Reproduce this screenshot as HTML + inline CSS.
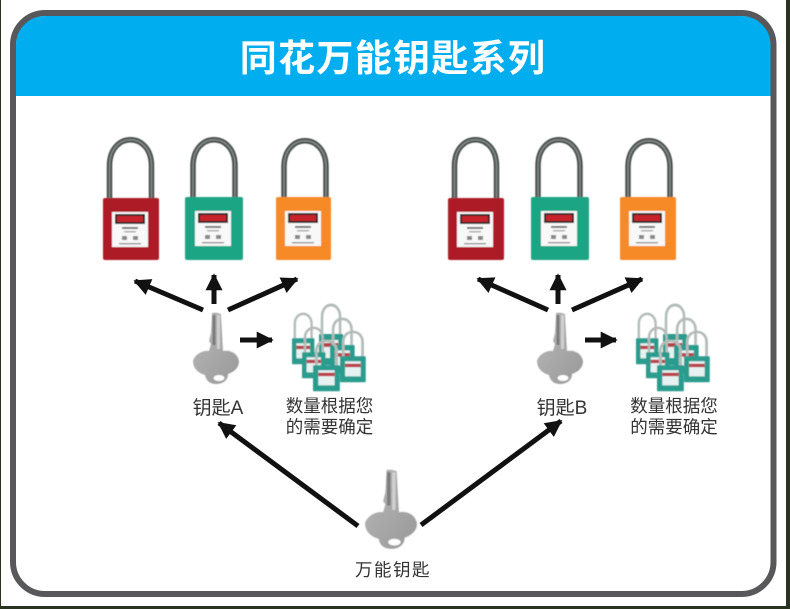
<!DOCTYPE html>
<html><head><meta charset="utf-8"><style>
html,body{margin:0;padding:0;background:#fff}
svg{display:block}
text{font-family:"Liberation Sans","Noto Sans CJK SC",sans-serif}
</style></head><body>
<svg width="790" height="609" viewBox="0 0 790 609" xmlns="http://www.w3.org/2000/svg">
<defs>
<linearGradient id="kg" x1="0" x2="1" y1="0" y2="1"><stop offset="0" stop-color="#b8b8b8"/><stop offset="1" stop-color="#999"/></linearGradient>
<filter id="b" x="-10%" y="-10%" width="120%" height="120%"><feGaussianBlur stdDeviation=".6"/></filter>
<g id="shackle"><path d="M7 64V26C7 -9 49 -9 49 26V64" fill="none" stroke="#4a504e" stroke-width="5.500"/><path d="M7 64V26C7 -9 49 -9 49 26V64" fill="none" stroke="#858c8a" stroke-width="1.500"/></g>
<g id="label"><rect x="9" y="15" width="36" height="35" fill="#f8f8f8"/><rect x="12" y="17" width="30" height="10" fill="#2a2a2a"/><rect x="14" y="19" width="26" height="6" fill="#c8202a"/><rect x="19" y="30" width="16" height="2" fill="#777"/><rect x="21" y="34" width="12" height="1.500" fill="#aaa"/><rect x="19" y="39" width="5" height="4" fill="#888"/><rect x="30" y="39" width="5" height="4" fill="#888"/><rect x="16" y="46" width="22" height="1.500" fill="#999"/></g>
<g id="mini"><path d="M7 64V26C7 -6 49 -6 49 26V64" fill="none" stroke="#b4bcba" stroke-width="6"/><rect x="0" y="60" width="56" height="62" rx="2" fill="#2a9c8e"/><rect x="11" y="72" width="34" height="36" fill="#e6f2f1"/><rect x="11" y="78" width="34" height="8" fill="#b8404a"/></g>
<g id="kh"><path d="M-4 0Q0 -1 5 1L7 38C13 37 21 39 23 48C23 55 18 59 12 61C12 68 6 71 0 71C-7 71 -10 67 -11 62C-18 60 -23 55 -23 48C-21 41 -13 37 -7 38L-5 31L-7 28L-5 20z" fill="url(#kg)"/><path d="M-2 2V32" stroke="#7c7c7c" stroke-width="3" fill="none"/><rect x="1" y="2" width="3" height="34" fill="#d0d0d0"/><ellipse cx="3" cy="65" rx="5.500" ry="3" fill="#fff"/></g>
<marker id="ah" viewBox="0 0 10 10" refX="9" refY="5" markerWidth="3.400" markerHeight="3.600" orient="auto"><path d="M0 0L10 5L0 10z" fill="#111"/></marker>
</defs>
<rect width="790" height="609" fill="#fff"/>
<rect x="0" y="0" width="1" height="609" fill="#2a3320"/>
<rect x="786" y="0" width="4" height="609" fill="#2a3320"/>
<rect x="0" y="606" width="790" height="3" fill="#2a3320"/>
<path d="M16 96V46Q16 16 46 16H741Q771 16 771 46V96z" fill="#00aeef"/>
<rect x="13" y="13" width="760.500" height="581" rx="32" fill="none" stroke="#58585a" stroke-width="6"/>
<text x="393" y="71" text-anchor="middle" font-size="37" font-weight="700" fill="#fff" letter-spacing="1.300">同花万能钥匙系列</text>

<g filter="url(#b)">
<use href="#shackle" transform="translate(102.500,140)"/>
<rect x="103" y="198" width="56" height="62" rx="2" fill="#ad1f28"/><use href="#label" transform="translate(103,197)"/>
<use href="#shackle" transform="translate(186,140)"/>
<rect x="185" y="197" width="58" height="63" rx="2" fill="#1fa584"/><use href="#label" transform="translate(186,196)"/>
<use href="#shackle" transform="translate(277,141)"/>
<rect x="276" y="197" width="55" height="63" rx="2" fill="#f58a25"/><use href="#label" transform="translate(276,196)"/>

<use href="#shackle" transform="translate(447.500,140)"/>
<rect x="448" y="198" width="56" height="62" rx="2" fill="#ad1f28"/><use href="#label" transform="translate(448,197)"/>
<use href="#shackle" transform="translate(531,140)"/>
<rect x="531" y="197" width="58" height="63" rx="2" fill="#1fa584"/><use href="#label" transform="translate(532,196)"/>
<use href="#shackle" transform="translate(621,141)"/>
<rect x="620" y="197" width="56" height="63" rx="2" fill="#f58a25"/><use href="#label" transform="translate(620,196)"/>

<g id="cluster">
<use href="#mini" transform="translate(319,304) scale(.43,.5)"/>
<use href="#mini" transform="translate(292,313) scale(.4,.42)"/>
<use href="#mini" transform="translate(330,318) scale(.44,.45)"/>
<use href="#mini" transform="translate(302,327) scale(.42,.42)"/>
<use href="#mini" transform="translate(340,331) scale(.46,.42)"/>
<use href="#mini" transform="translate(313,340) scale(.48,.42)"/>
</g>
<use href="#cluster" transform="translate(344,0)"/>

<use href="#kh" transform="translate(216,313)"/>
<use href="#kh" transform="translate(560,313)"/>
<use href="#kh" transform="translate(391,470) scale(1.130,1.110)"/>
</g>

<g stroke="#111" stroke-width="5" fill="none" marker-end="url(#ah)">
<line x1="203" y1="310" x2="135" y2="281"/>
<line x1="214" y1="304" x2="214" y2="275"/>
<line x1="228" y1="310" x2="297" y2="279"/>
<line x1="240" y1="340" x2="272" y2="340"/>
<line x1="358" y1="526" x2="219" y2="423"/>
<line x1="421" y1="525" x2="561" y2="421"/>
<line x1="548" y1="310" x2="478" y2="279"/>
<line x1="558" y1="304" x2="558" y2="275"/>
<line x1="572" y1="310" x2="642" y2="279"/>
<line x1="585" y1="340" x2="616" y2="340"/>
</g>

<g fill="#333" font-size="17.500" text-anchor="middle">
<text x="218" y="414" font-size="19">钥匙A</text>
<text x="562" y="414" font-size="19">钥匙B</text>
<text x="329.500" y="412">数量根据您</text>
<text x="329.500" y="433">的需要确定</text>
<text x="674" y="412">数量根据您</text>
<text x="674" y="433">的需要确定</text>
<text x="393" y="576" letter-spacing="1.500">万能钥匙</text>
</g>
</svg>
</body></html>
